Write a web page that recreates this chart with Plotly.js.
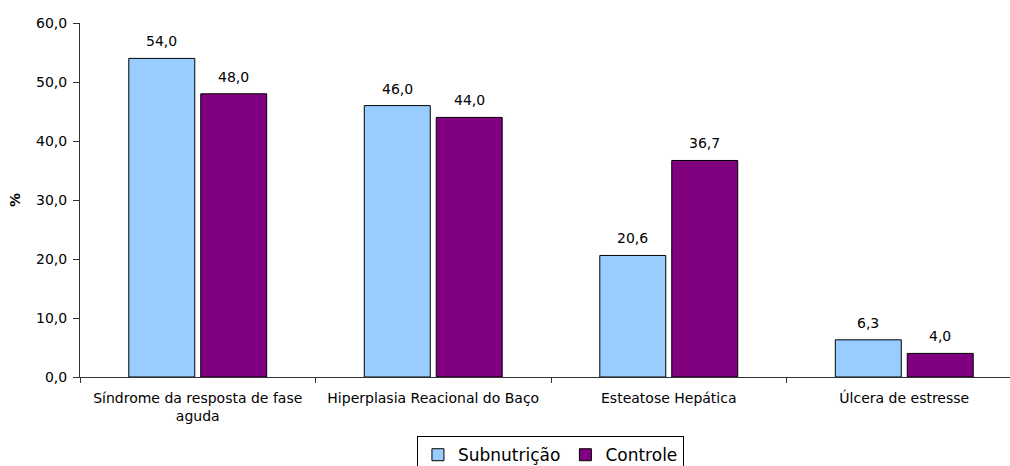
<!DOCTYPE html>
<html>
<head>
<meta charset="utf-8">
<script src="https://cdn.plot.ly/plotly-3.0.1.min.js"></script>
<style>
  html, body { margin: 0; padding: 0; background: #fff; overflow: hidden; }
  #chart { width: 1010px; height: 466px; }
</style>
</head>
<body>
<div id="chart"></div>
<script>
// Achados (%) por grupo
const categories = [
  "Síndrome da resposta de fase<br>aguda",
  "Hiperplasia Reacional do Baço",
  "Esteatose Hepática",
  "Úlcera de estresse"
];
const subnutricao = [54.0, 46.0, 20.6, 6.3];
const controle = [48.0, 44.0, 36.7, 4.0];
const yTickVals = [0, 10, 20, 30, 40, 50, 60];
const yTickText = ["0,0", "10,0", "20,0", "30,0", "40,0", "50,0", "60,0"];

const fmt = v => v.toFixed(1).replace(".", ",");
const FONT = "DejaVu Sans, Arial, sans-serif";
const BAR_SHIFT = 36;   // px offset of each bar centre from its category centre

const traces = [
  {
    type: "bar", name: "Subnutrição", x: categories, y: subnutricao,
    marker: { color: "#99CCFF", line: { color: "#000", width: 1 } },
    hoverinfo: "skip"
  },
  {
    type: "bar", name: "Controle", x: categories, y: controle,
    marker: { color: "#800080", line: { color: "#000", width: 1 } },
    hoverinfo: "skip"
  }
];

// value labels above each bar
const labels = [];
[[subnutricao, -BAR_SHIFT], [controle, BAR_SHIFT]].forEach(([vals, dx]) => {
  vals.forEach((v, i) => {
    labels.push({
      x: categories[i], y: v, xref: "x", yref: "y",
      text: fmt(v), showarrow: false,
      xanchor: "center", yanchor: "bottom", xshift: dx, yshift: 7,
      font: { family: FONT, size: 14, color: "#000" }
    });
  });
});

const layout = {
  width: 1010, height: 466,
  margin: { l: 80, r: 0, t: 23, b: 89 },
  paper_bgcolor: "#fff", plot_bgcolor: "#fff",
  font: { family: FONT, size: 14, color: "#000" },
  barmode: "group", bargap: 0.389, bargroupgap: 0.083,
  showlegend: true,
  legend: {
    orientation: "h", xref: "container", yref: "container",
    x: 0.545, y: 0.064, xanchor: "center", yanchor: "top",
    bordercolor: "#000", borderwidth: 1, bgcolor: "#fff",
    font: { family: FONT, size: 17, color: "#000" },
    itemwidth: 30, tracegroupgap: 0
  },
  annotations: labels,
  xaxis: {
    type: "category", range: [-0.5, 3.449], fixedrange: true, automargin: false,
    showline: true, linecolor: "#333", linewidth: 1,
    ticks: "outside", tickson: "boundaries", ticklen: 5, tickcolor: "#333",
    ticklabelstandoff: 8,
    showgrid: false, zeroline: false,
    tickfont: { family: FONT, size: 14, color: "#000" }
  },
  yaxis: {
    range: [0, 60], fixedrange: true, automargin: false,
    tickvals: yTickVals, ticktext: yTickText,
    showline: true, linecolor: "#333", linewidth: 1,
    ticks: "outside", ticklen: 6, tickcolor: "#333",
    ticklabelstandoff: 3,
    showgrid: false, zeroline: false,
    tickfont: { family: FONT, size: 14, color: "#000" },
    title: { text: "<b>%</b>", font: { family: FONT, size: 14, color: "#000" }, standoff: 12 }
  }
};

Plotly.newPlot("chart", traces, layout, { displayModeBar: false, staticPlot: true });
</script>
</body>
</html>
